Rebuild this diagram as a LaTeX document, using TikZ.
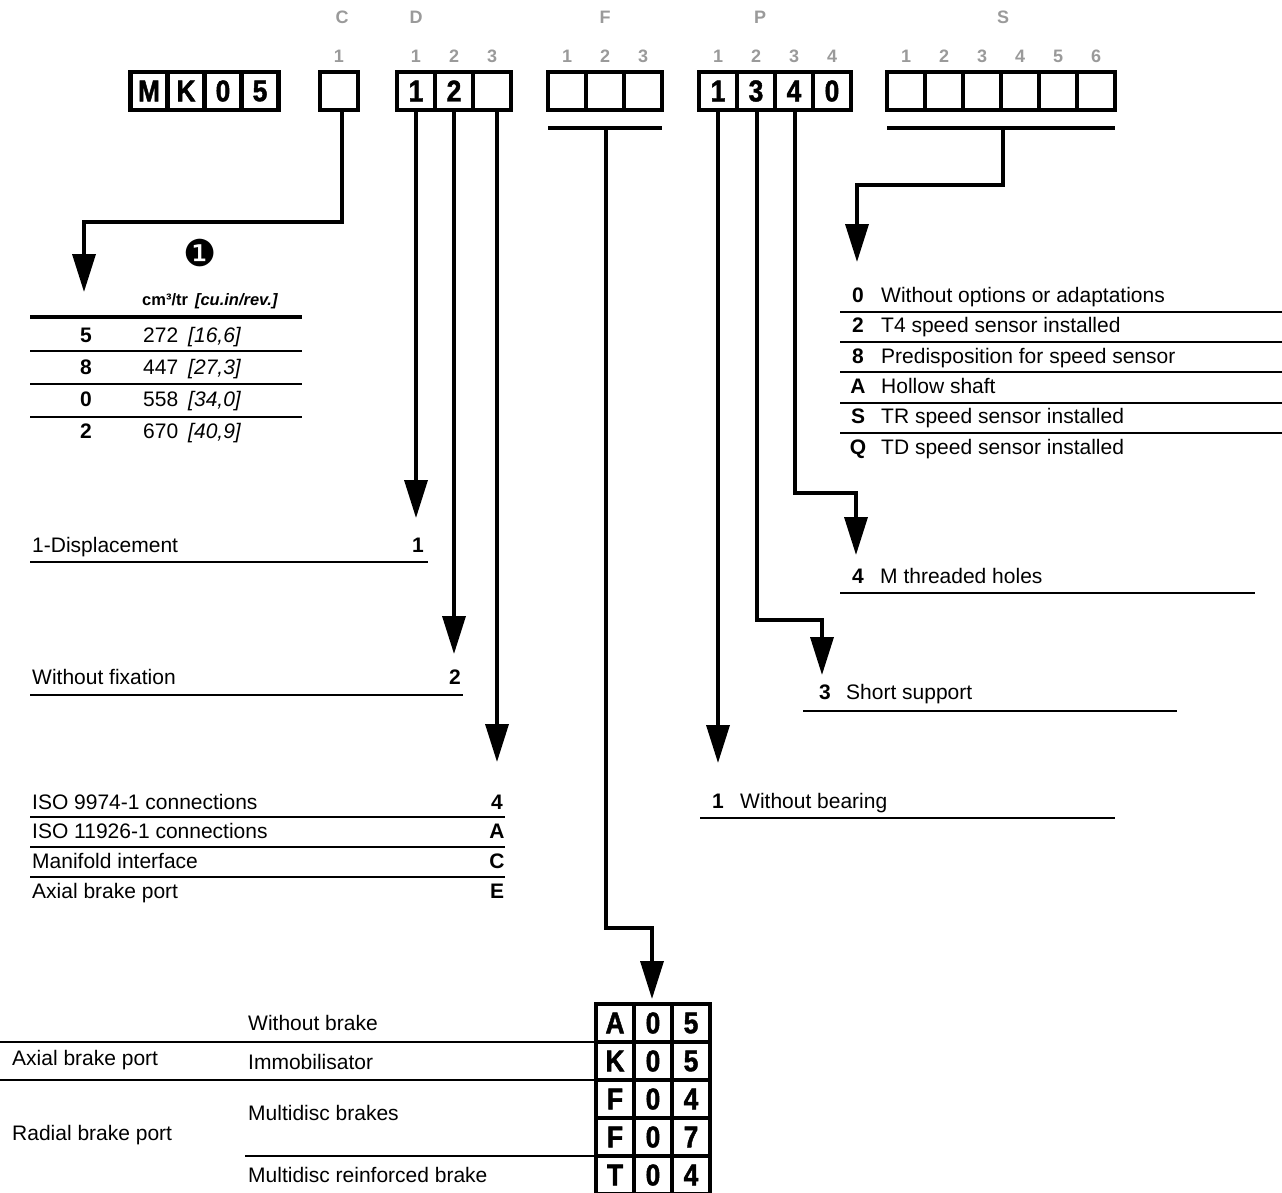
\documentclass[tikz,border=0pt]{standalone}
\usepackage{fontspec}
\setmainfont{Liberation Sans}
\newfontfamily\dingfont{DejaVu Sans}
\newfontfamily\cellfont{Liberation Sans Bold}[FakeStretch=0.88, FakeBold=1.5]
\usetikzlibrary{positioning,arrows.meta}

\definecolor{headgray}{HTML}{9A9A9A}
\tikzstyle{cell} = [draw, line width=4.5pt, outer sep=0pt, inner sep=0pt, minimum width=38pt, minimum height=38pt, font=\cellfont\fontsize{30}{30}\selectfont]
\tikzstyle{head} = [inner sep=0pt, text=headgray, font=\bfseries\fontsize{18}{20}\selectfont]
\tikzstyle{txt} = [anchor=base west, inner sep=0pt, font=\fontsize{21}{24}\selectfont]
\tikzstyle{key} = [anchor=base, inner sep=0pt, font=\bfseries\fontsize{21}{24}\selectfont]
\tikzstyle{wire} = [line width=3.5pt]
\tikzstyle{conn} = [line width=3.5pt, -{Triangle[width=23pt,length=38pt]}]
\tikzstyle{rule} = [line width=1.5pt]
\tikzstyle{underline} = [line width=2.5pt]

\begin{document}
\begin{tikzpicture}[x=1pt, y=-1pt]
\useasboundingbox (0,0) rectangle (1282,1192);

% code letters
\node[head] (hC) at (342,17) {C};
\node[head] (hD) at (416,17) {D};
\node[head] (hF) at (605,17) {F};
\node[head] (hP) at (760,17) {P};
\node[head] (hS) at (1003,17) {S};

% code boxes
\node[cell, minimum width=37pt] (mkM) at (149,91) {M};
\node[cell, minimum width=37pt, right=0pt of mkM] (mkK) {K};
\node[cell, minimum width=37pt, right=0pt of mkK] (mk0) {0};
\node[cell, minimum width=37pt, right=0pt of mk0] (mk5) {5};

\node[cell] (c1) at (339,91) {};

\node[cell] (d1) at (416,91) {1};
\node[cell, right=0pt of d1] (d2) {2};
\node[cell, right=0pt of d2] (d3) {};

\node[cell] (f1) at (567,91) {};
\node[cell, right=0pt of f1] (f2) {};
\node[cell, right=0pt of f2] (f3) {};

\node[cell] (p1) at (718,91) {1};
\node[cell, right=0pt of p1] (p2) {3};
\node[cell, right=0pt of p2] (p3) {4};
\node[cell, right=0pt of p3] (p4) {0};

\node[cell] (s1) at (906,91) {};
\node[cell, right=0pt of s1] (s2) {};
\node[cell, right=0pt of s2] (s3) {};
\node[cell, right=0pt of s3] (s4) {};
\node[cell, right=0pt of s4] (s5) {};
\node[cell, right=0pt of s5] (s6) {};

% position numbers
\node[head, above=9.5pt of c1] (nC1) {1};
\node[head, above=9.5pt of d1] (nD1) {1};
\node[head, above=9.5pt of d2] (nD2) {2};
\node[head, above=9.5pt of d3] (nD3) {3};
\node[head, above=9.5pt of f1] (nF1) {1};
\node[head, above=9.5pt of f2] (nF2) {2};
\node[head, above=9.5pt of f3] (nF3) {3};
\node[head, above=9.5pt of p1] (nP1) {1};
\node[head, above=9.5pt of p2] (nP2) {2};
\node[head, above=9.5pt of p3] (nP3) {3};
\node[head, above=9.5pt of p4] (nP4) {4};
\node[head, above=9.5pt of s1] (nS1) {1};
\node[head, above=9.5pt of s2] (nS2) {2};
\node[head, above=9.5pt of s3] (nS3) {3};
\node[head, above=9.5pt of s4] (nS4) {4};
\node[head, above=9.5pt of s5] (nS5) {5};
\node[head, above=9.5pt of s6] (nS6) {6};

% turning points and arrow tips
\coordinate (cTurn) at (342,222);
\coordinate (tipC) at (84,292);
\coordinate (tipD1) at (416,518);
\coordinate (tipD2) at (454,654);
\coordinate (tipD3) at (497,762);
\coordinate (fbar) at (606,128);
\coordinate (fTurn) at (606,928);
\coordinate (tipF) at (652,999);
\coordinate (tipP1) at (718,763);
\coordinate (pTurn2) at (757,620);
\coordinate (tipP2) at (822,675);
\coordinate (pTurn3) at (795,493);
\coordinate (tipP3) at (856,555);
\coordinate (sbar) at (1003,128);
\coordinate (sTurn) at (1003,185);
\coordinate (tipS) at (857,262);

% connectors
\draw[conn] (c1.south -| cTurn) -- (cTurn) -| (tipC);
\draw[conn] (d1.south) -- (d1.south |- tipD1);
\draw[conn] (d2.south -| tipD2) -- (tipD2);
\draw[conn] (d3.south -| tipD3) -- (tipD3);
\draw[wire] (f1.west |- fbar) -- (f3.east |- fbar);
\draw[conn] (fbar) -- (fTurn) -| (tipF);
\draw[conn] (p1.south) -- (p1.south |- tipP1);
\draw[conn] (p2.south -| pTurn2) -- (pTurn2) -| (tipP2);
\draw[conn] (p3.south -| pTurn3) -- (pTurn3) -| (tipP3);
\draw[wire] (s1.west |- sbar) -- (s6.east |- sbar);
\draw[conn] (sbar) -- (sTurn) -| (tipS);

% C: displacement table
\node[inner sep=0pt, font={\dingfont\fontsize{37}{38}\selectfont}] (one) at (200,253) {❶};
\node[anchor=base west, inner sep=0pt, font=\bfseries\fontsize{16.5}{18}\selectfont] (unit) at (142,305) {cm³/tr\hspace{7pt}\textit{[cu.in/rev.]}};
\draw[line width=3.6pt] (30,317) -- (302,317);
\node[key] (kC5) at (86,342.5) {5};
\node[txt] (vC5) at (143,342.5) {272\hspace{10pt}\textit{[16,6]}};
\draw[rule] (30,351) -- (302,351);
\node[key] (kC8) at (86,374.5) {8};
\node[txt] (vC8) at (143,374.5) {447\hspace{10pt}\textit{[27,3]}};
\draw[underline] (30,384) -- (302,384);
\node[key] (kC0) at (86,406.5) {0};
\node[txt] (vC0) at (143,406.5) {558\hspace{10pt}\textit{[34,0]}};
\draw[underline] (30,417) -- (302,417);
\node[key] (kC2) at (86,438.5) {2};
\node[txt] (vC2) at (143,438.5) {670\hspace{10pt}\textit{[40,9]}};

% D: displacement, fixation, connections
\node[txt] (disp) at (32,552.5) {1-Displacement};
\node[key] (kD1) at (418,552.5) {1};
\draw[underline] (30,562) -- (428,562);
\node[txt] (nofix) at (32,684.5) {Without fixation};
\node[key] (kD2) at (455,684.5) {2};
\draw[underline] (30,695) -- (463,695);
\node[txt] (iso1) at (32,809.5) {ISO 9974-1 connections};
\node[key] (kD3a) at (497,809.5) {4};
\draw[underline] (30,817) -- (505,817);
\node[txt] (iso2) at (32,838.5) {ISO 11926-1 connections};
\node[key] (kD3b) at (497,838.5) {A};
\draw[rule] (30,847) -- (505,847);
\node[txt] (manif) at (32,868.5) {Manifold interface};
\node[key] (kD3c) at (497,868.5) {C};
\draw[rule] (30,877) -- (505,877);
\node[txt] (axial) at (32,898.5) {Axial brake port};
\node[key] (kD3d) at (497,898.5) {E};

% P: bearing, support, holes
\node[key] (kP1) at (718,808.5) {1};
\node[txt] (bearing) at (740,808.5) {Without bearing};
\draw[underline] (700,818) -- (1115,818);
\node[key] (kP2) at (825,699.5) {3};
\node[txt] (support) at (846,699.5) {Short support};
\draw[underline] (803,711) -- (1177,711);
\node[key] (kP3) at (858,583.5) {4};
\node[txt] (holes) at (880,583.5) {M threaded holes};
\draw[underline] (840,593) -- (1255,593);

% S: options
\node[key] (kS0) at (858,302.5) {0};
\node[txt] (opt0) at (881,302.5) {Without options or adaptations};
\draw[rule] (840,312) -- (1282,312);
\node[key] (kS2) at (858,332.5) {2};
\node[txt] (opt2) at (881,332.5) {T4 speed sensor installed};
\draw[rule] (840,342) -- (1282,342);
\node[key] (kS8) at (858,363.5) {8};
\node[txt] (opt8) at (881,363.5) {Predisposition for speed sensor};
\draw[rule] (840,372) -- (1282,372);
\node[key] (kSA) at (858,393.5) {A};
\node[txt] (optA) at (881,393.5) {Hollow shaft};
\draw[rule] (840,403) -- (1282,403);
\node[key] (kSS) at (858,423.5) {S};
\node[txt] (optS) at (881,423.5) {TR speed sensor installed};
\draw[rule] (840,433) -- (1282,433);
\node[key] (kSQ) at (858,454.5) {Q};
\node[txt] (optQ) at (881,454.5) {TD speed sensor installed};

% F: brake codes
\node[cell] (r1a) at (615,1023) {A};
\node[cell, right=0pt of r1a] (r1b) {0};
\node[cell, right=0pt of r1b] (r1c) {5};
\node[cell, below=0pt of r1a] (r2a) {K};
\node[cell, right=0pt of r2a] (r2b) {0};
\node[cell, right=0pt of r2b] (r2c) {5};
\node[cell, below=0pt of r2a] (r3a) {F};
\node[cell, right=0pt of r3a] (r3b) {0};
\node[cell, right=0pt of r3b] (r3c) {4};
\node[cell, below=0pt of r3a] (r4a) {F};
\node[cell, right=0pt of r4a] (r4b) {0};
\node[cell, right=0pt of r4b] (r4c) {7};
\node[cell, below=0pt of r4a] (r5a) {T};
\node[cell, right=0pt of r5a] (r5b) {0};
\node[cell, right=0pt of r5b] (r5c) {4};

\node[txt] (nobrake) at (248,1030.5) {Without brake};
\node[txt] (immob) at (248,1069.5) {Immobilisator};
\node[txt] (multi) at (248,1120.5) {Multidisc brakes};
\node[txt] (multir) at (248,1182.5) {Multidisc reinforced brake};
\node[txt] (axport) at (12,1065.5) {Axial brake port};
\node[txt] (radport) at (12,1140.5) {Radial brake port};
\draw[rule] (r1a.south west) -- ++(-596,0);
\draw[rule] (r2a.south west) -- ++(-596,0);
\draw[rule] (r4a.south west) -- ++(-351,0);
\end{tikzpicture}
\end{document}
